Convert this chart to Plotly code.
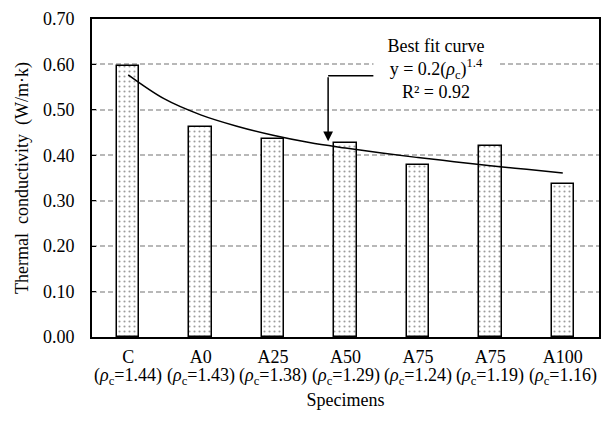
import plotly.graph_objects as go

specimens = ["C", "A0", "A25", "A50", "A75", "A75", "A100"]
rho_c = ["1.44", "1.43", "1.38", "1.29", "1.24", "1.19", "1.16"]
conductivity = [0.596, 0.462, 0.435, 0.428, 0.378, 0.420, 0.337]

# best-fit curve (category index vs value)
curve_x = [0, 0.5, 1, 1.5, 2, 2.5, 3, 3.5, 4, 4.5, 5, 5.5, 6]
curve_y = [0.577, 0.524, 0.489, 0.464, 0.444, 0.428, 0.416, 0.405, 0.395, 0.386, 0.377, 0.369, 0.361]

FONT = "Liberation Serif"
idx = list(range(len(specimens)))

fig = go.Figure()
fig.add_trace(go.Bar(
    x=idx, y=conductivity, width=0.31,
    marker=dict(color="white",
                line=dict(color="black", width=1.5),
                pattern=dict(shape=".", fgcolor="#3a3a3a", bgcolor="white",
                             size=5, solidity=0.14)),
    showlegend=False,
))
fig.add_trace(go.Scatter(
    x=curve_x, y=curve_y, mode="lines",
    line=dict(color="black", width=1.5, shape="spline"),
    showlegend=False,
))

annotations = []
for i, r in zip(idx, rho_c):
    annotations.append(dict(
        x=i, y=0, xref="x", yref="paper", yanchor="middle", yshift=-39,
        text=f"(<i>ρ</i><sub>c</sub>={r})", showarrow=False,
        font=dict(family=FONT, size=18, color="black"),
    ))

annotations.append(dict(
    x=4.245, y=0.589, xref="x", yref="y",
    text="Best fit curve<br>y = 0.2(<i>ρ</i><sub>c</sub>)<sup>1.4</sup><br>R² = 0.92",
    showarrow=False, bgcolor="white", width=122, height=74,
    font=dict(family=FONT, size=18, color="black"),
))
annotations.append(dict(
    x=2.76, y=0.431, xref="x", yref="y",
    ax=2.76, ay=0.575, axref="x", ayref="y",
    showarrow=True, arrowhead=2, arrowsize=1.3, arrowwidth=1.5, arrowcolor="black",
    text="",
))

fig.update_layout(
    width=610, height=436,
    margin=dict(l=92, r=9, t=11, b=99),
    plot_bgcolor="white", paper_bgcolor="white",
    font=dict(family=FONT, size=18, color="black"),
    annotations=annotations,
    shapes=[dict(type="line", xref="x", yref="y", x0=2.76, x1=3.39, y0=0.575, y1=0.575,
                 line=dict(color="black", width=1.5))],
    bargap=0,
)
fig.update_xaxes(
    range=[-0.5, 6.5], tickmode="array", tickvals=idx, ticktext=specimens,
    showline=True, linecolor="black", linewidth=2, mirror=True,
    ticks="", showgrid=False, ticklabelstandoff=2,
    tickfont=dict(family=FONT, size=18),
    title=dict(text="Specimens", standoff=28, font=dict(family=FONT, size=18)),
    zeroline=False,
)
fig.update_yaxes(
    range=[0, 0.7], dtick=0.1, tickformat=".2f",
    showline=True, linecolor="black", linewidth=2, mirror=True,
    ticks="inside", ticklen=4, tickcolor="black",
    showgrid=True, gridcolor="#b8b8b8", gridwidth=1.5, griddash="5px,3px",
    ticklabelstandoff=12,
    tickfont=dict(family=FONT, size=18),
    title=dict(text="Thermal  conductivity  (W/m·k)", standoff=10, font=dict(family=FONT, size=18)),
    zeroline=False,
)

fig.write_html("out.html")
